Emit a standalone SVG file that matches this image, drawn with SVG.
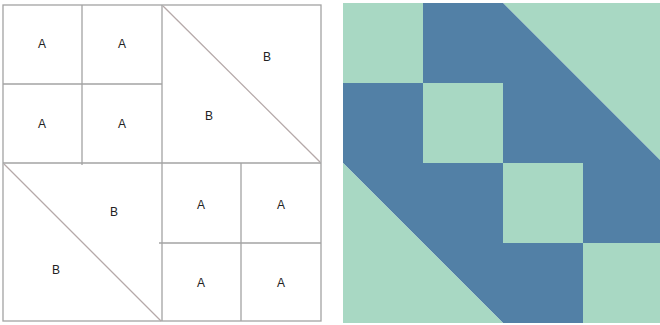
<svg xmlns="http://www.w3.org/2000/svg" width="660" height="325" viewBox="0 0 660 325">
<style>
.ln{stroke:#a3a3a3;stroke-width:1.3;fill:none}
.dg{stroke:#b5a9a9;stroke-width:1.3;fill:none}
.lb{font-family:"Liberation Sans",Arial,sans-serif;font-size:12px;fill:#222;text-anchor:middle}
.g{fill:#a8d8c3}
.b{fill:#5280a6}
</style>
<rect width="660" height="325" fill="#ffffff"/>
<g id="pattern">
<rect x="3" y="5" width="318" height="316" class="ln" stroke-width="1.6"/>
<g id="tl-quad">
<line x1="82" y1="5" x2="82" y2="165" class="ln"/>
<line x1="3" y1="84" x2="162" y2="84" class="ln"/>
<text x="42" y="48" class="lb">A</text>
<text x="122" y="48" class="lb">A</text>
<text x="42" y="128" class="lb">A</text>
<text x="122" y="128" class="lb">A</text>
</g>
<g id="tr-quad">
<line x1="163" y1="6" x2="320" y2="162" class="dg"/>
<text x="267" y="61" class="lb">B</text>
<text x="209" y="120" class="lb">B</text>
</g>
<g id="bl-quad">
<line x1="4" y1="164" x2="161" y2="321" class="dg"/>
<text x="114" y="216" class="lb">B</text>
<text x="56" y="274" class="lb">B</text>
</g>
<g id="br-quad">
<line x1="241" y1="163" x2="241" y2="321" class="ln"/>
<line x1="159" y1="243" x2="321" y2="243" class="ln"/>
<text x="201" y="209" class="lb">A</text>
<text x="281" y="209" class="lb">A</text>
<text x="201" y="287" class="lb">A</text>
<text x="281" y="287" class="lb">A</text>
</g>
<line x1="162" y1="5" x2="162" y2="321" class="ln"/>
<line x1="3" y1="163" x2="321" y2="163" class="ln"/>
</g>
<g id="colored">
<g id="c-tl">
<rect x="343" y="3" width="80" height="80" class="g"/>
<rect x="423" y="3" width="80" height="80" class="b"/>
<rect x="343" y="83" width="80" height="80" class="b"/>
<rect x="423" y="83" width="80" height="80" class="g"/>
</g>
<g id="c-tr">
<polygon points="503,3 663,3 663,163" class="g"/>
<polygon points="503,3 663,163 503,163" class="b"/>
</g>
<g id="c-bl">
<polygon points="343,163 503,163 503,323" class="b"/>
<polygon points="343,163 503,323 343,323" class="g"/>
</g>
<g id="c-br">
<rect x="503" y="163" width="80" height="80" class="g"/>
<rect x="583" y="163" width="80" height="80" class="b"/>
<rect x="503" y="243" width="80" height="80" class="b"/>
<rect x="583" y="243" width="80" height="80" class="g"/>
</g>
</g>
</svg>
